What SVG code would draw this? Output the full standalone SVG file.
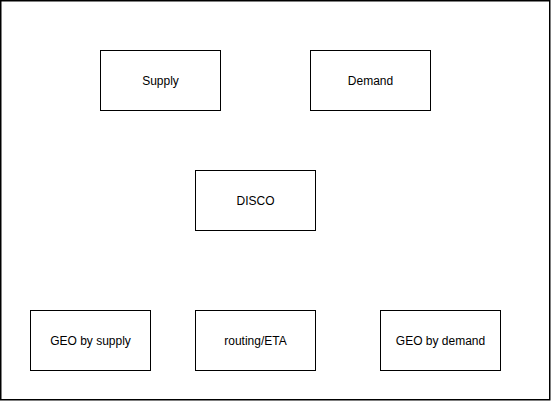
<svg xmlns="http://www.w3.org/2000/svg" width="551" height="401" viewBox="0 0 551 401">
<style>
.frame{fill:#fff;stroke:#000;stroke-width:1.5}
.box{fill:#fff;stroke:#000;stroke-width:1}
.lbl{font-family:"Liberation Sans",Arial,sans-serif;font-size:12px;fill:#000;text-anchor:middle;dominant-baseline:central}
</style>
<rect class="frame" x="0.75" y="0.75" width="549" height="399"/>
<g id="connectors"></g>
<g id="supply"><rect class="box" x="100.5" y="50.5" width="120" height="60"/><text class="lbl" x="160.5" y="80.5">Supply</text></g>
<g id="demand"><rect class="box" x="310.5" y="50.5" width="120" height="60"/><text class="lbl" x="370.5" y="80.5">Demand</text></g>
<g id="disco"><rect class="box" x="195.5" y="170.5" width="120" height="60"/><text class="lbl" x="255.5" y="200.5">DISCO</text></g>
<g id="geo-supply"><rect class="box" x="30.5" y="310.5" width="120" height="60"/><text class="lbl" x="90.5" y="340.5">GEO by supply</text></g>
<g id="routing"><rect class="box" x="195.5" y="310.5" width="120" height="60"/><text class="lbl" x="255.5" y="340.5">routing/ETA</text></g>
<g id="geo-demand"><rect class="box" x="380.5" y="310.5" width="120" height="60"/><text class="lbl" x="440.5" y="340.5">GEO by demand</text></g>
</svg>
